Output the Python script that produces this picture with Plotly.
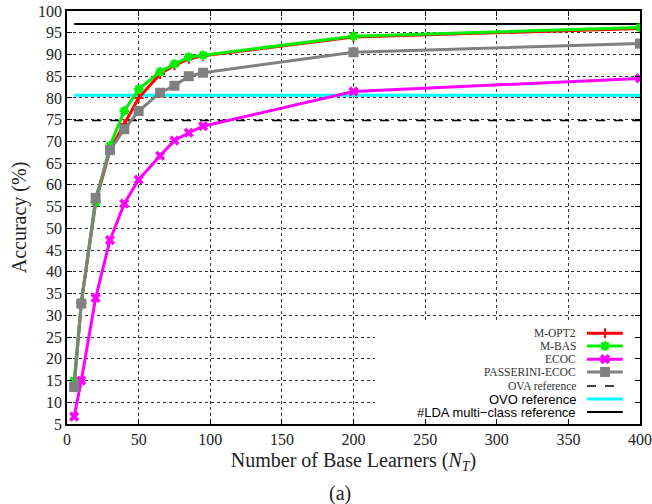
import plotly.graph_objects as go

x_vals = [5, 10, 20, 30, 40, 50, 65, 75, 85, 95, 200, 400]
m_opt2 = [14.0, 33.0, 56.0, 68.0, 74.0, 80.0, 85.5, 87.5, 89.0, 89.7, 94.0, 96.0]
m_bas = [15.0, 33.0, 56.0, 69.0, 77.0, 82.0, 86.0, 87.8, 89.4, 89.8, 94.2, 96.2]
ecoc = [6.7, 15.0, 34.0, 47.3, 55.7, 61.2, 66.7, 70.2, 72.0, 73.5, 81.5, 84.5]
passerini = [13.5, 32.7, 57.0, 68.0, 72.8, 77.0, 81.2, 82.8, 85.0, 85.8, 90.5, 92.5]
ref_x = [5, 400]
ova_ref = 74.8
ovo_ref = 80.6
lda_ref = 97.0

x_ticks = list(range(0, 401, 50))
y_ticks = list(range(5, 101, 5))

SERIF = "Liberation Serif, Times New Roman, serif"
SANS = "Liberation Sans, Arial, sans-serif"

mk_opt2 = dict(symbol="cross-thin-open", size=7, color="#ff0000", line=dict(width=2, color="#ff0000"))
mk_bas = dict(symbol="asterisk-open", size=8, color="#00ee00", line=dict(width=2.5, color="#00ee00"))
mk_ecoc = dict(symbol="x", size=9, color="#ff00ff", line=dict(width=0, color="#ff00ff"))
mk_pass = dict(symbol="square", size=10, color="#808080", line=dict(width=0, color="#808080"))

series = [
    ("M-OPT2", m_opt2, "#ff0000", mk_opt2),
    ("M-BAS", m_bas, "#00ee00", mk_bas),
    ("ECOC", ecoc, "#ff00ff", mk_ecoc),
    ("PASSERINI-ECOC", passerini, "#808080", mk_pass),
]

fig = go.Figure()

# reference lines
fig.add_trace(go.Scatter(x=ref_x, y=[ova_ref, ova_ref], mode="lines",
                         line=dict(color="black", width=1.5, dash="dash"), showlegend=False))
fig.add_trace(go.Scatter(x=ref_x, y=[ovo_ref, ovo_ref], mode="lines",
                         line=dict(color="#00ffff", width=3), showlegend=False))
fig.add_trace(go.Scatter(x=ref_x, y=[lda_ref, lda_ref], mode="lines",
                         line=dict(color="black", width=2), showlegend=False))

for name, vals, col, mk in series:
    fig.add_trace(go.Scatter(x=x_vals, y=vals, mode="lines+markers",
                             line=dict(color=col, width=3), marker=mk, showlegend=False))

# white legend box (covers the grid, like gnuplot's key)
fig.add_trace(go.Scatter(x=[0.5375, 0.998, 0.998, 0.5375, 0.5375], y=[0.003, 0.003, 0.247, 0.247, 0.003],
                         mode="lines", fill="toself", fillcolor="white", line=dict(width=0, color="white"),
                         xaxis="x2", yaxis="y2", showlegend=False, hoverinfo="skip"))

# manual legend (symbols to the right of the text, gnuplot style)
leg_y = [0.220, 0.189, 0.157, 0.126, 0.092, 0.0605, 0.029]
legend_items = [
    ("M-OPT2", "#ff0000", "solid", 3, mk_opt2, SERIF, 11.5),
    ("M-BAS", "#00ee00", "solid", 3, mk_bas, SERIF, 11.5),
    ("ECOC", "#ff00ff", "solid", 3, mk_ecoc, SERIF, 11.5),
    ("PASSERINI-ECOC", "#808080", "solid", 3, mk_pass, SERIF, 11.5),
    ("OVA reference", "black", "dash", 1.5, None, SERIF, 11.5),
    ("OVO reference", "#00ffff", "solid", 3, None, SANS, 13),
    ("#LDA multi\u2212class reference", "black", "solid", 2, None, SANS, 13),
]
for (name, col, dash, w, mk, fam, fs), yy in zip(legend_items, leg_y):
    fig.add_trace(go.Scatter(x=[0.9075, 0.970], y=[yy, yy], mode="lines", xaxis="x2", yaxis="y2",
                             line=dict(color=col, width=w, dash=dash), showlegend=False, hoverinfo="skip"))
    if mk is not None:
        fig.add_trace(go.Scatter(x=[0.939], y=[yy], mode="markers", xaxis="x2", yaxis="y2",
                                 marker=mk, showlegend=False, hoverinfo="skip"))
    fig.add_annotation(x=0.892, y=yy, xref="paper", yref="paper", text=name, showarrow=False,
                       xanchor="right", yanchor="middle",
                       font=dict(family=fam, size=fs, color="#333333" if fam == SERIF else "black"))

axis_common = dict(showline=True, linecolor="black", linewidth=1.5, mirror="ticks",
                   ticks="inside", ticklen=5, tickcolor="black", showgrid=True,
                   gridcolor="#333333", griddash="dot", gridwidth=1, zeroline=False,
                   automargin=False,
                   tickfont=dict(family=SERIF, size=16, color="#222222"))

fig.update_layout(
    width=652, height=504,
    margin=dict(l=67, r=12, t=11, b=80),
    paper_bgcolor="white", plot_bgcolor="white",
    xaxis=dict(range=[0, 400], tickvals=x_ticks,
               title=dict(text="Number of Base Learners (<i>N</i><sub><i>T</i></sub>)",
                          font=dict(family=SERIF, size=20, color="#222222"), standoff=6),
               **axis_common),
    yaxis=dict(range=[5, 100], tickvals=y_ticks,
               title=dict(text="Accuracy (%)", font=dict(family=SERIF, size=20, color="#222222"), standoff=6),
               **axis_common),
    xaxis2=dict(overlaying="x", range=[0, 1], visible=False),
    yaxis2=dict(overlaying="y", range=[0, 1], visible=False),
    showlegend=False,
)

fig.add_annotation(x=0.477, y=-0.135, xref="paper", yref="paper", text="(a)", showarrow=False,
                   yanchor="top", font=dict(family=SERIF, size=20, color="#222222"))

fig.write_html("out.html")
